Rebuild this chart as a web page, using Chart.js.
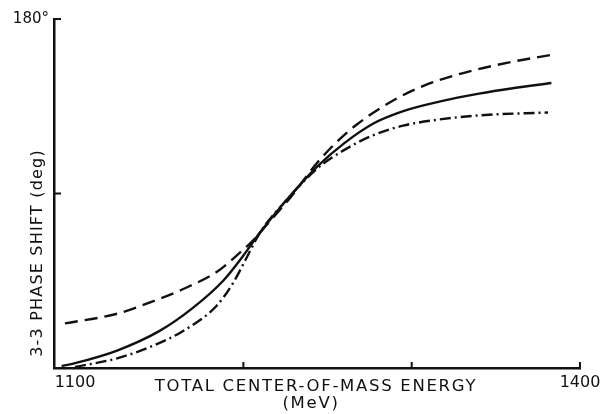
<!DOCTYPE html>
<html lang="en">
<head>
    <script src="https://cdn.jsdelivr.net/npm/chart.js"></script>
    <style>
        body { margin: 0; background: #fff; }
        #wrap { width: 606px; height: 414px; }
    </style>
</head>
<body>
<div id="wrap"><canvas id="phaseChart"></canvas></div>
<script>
    // energies (MeV) and phase shifts (deg)
    const solidE   = [1092, 1100, 1125, 1150, 1170, 1188, 1200, 1210, 1225, 1244, 1260, 1277, 1295, 1317, 1340, 1360, 1383];
    const solidDeg = [1, 2.5, 9, 19, 31, 45, 58, 70, 86, 104, 116, 126, 132.5, 137.5, 141.5, 144.3, 147];

    const dashE   = [1094, 1125, 1145, 1165, 1185, 1196, 1206, 1212, 1228, 1244, 1256, 1268, 1289, 1307, 1330, 1360, 1383];
    const dashDeg = [23, 28, 34, 41, 50, 58, 66, 72, 88, 106, 117, 126, 138, 145.5, 152, 158, 161.5];

    const dotE   = [1100, 1125, 1145, 1164, 1184, 1194, 1202, 1210, 1225, 1244, 1262, 1277, 1295, 1315, 1340, 1381];
    const dotDeg = [0.5, 5, 11, 19, 32, 44, 57, 70, 86, 103, 113.5, 120, 125, 128, 130.3, 131.8];

    const xTicks = [1100, 1200, 1300, 1400];
    const xTickLabels = ['1100', '', '', '1400'];
    const yTicks = [0, 90, 180];
    const yTickLabels = ['', '', '180°'];

    const xTitle = ['TOTAL CENTER-OF-MASS ENERGY', '(MeV)'];
    const yTitle = '3-3 PHASE SHIFT (deg)';

    const ink = '#111';
    const toPts = (xs, ys) => xs.map((x, i) => ({ x: x, y: ys[i] }));

    function line(data, dash) {
        return {
            data: data,
            borderColor: ink,
            borderWidth: 2.4,
            borderDash: dash,
            pointRadius: 0,
            fill: false,
            cubicInterpolationMode: 'monotone'
        };
    }

    // inward tick marks + axis titles
    const decorations = {
        id: 'decorations',
        afterDraw(chart) {
            const c = chart.ctx;
            const xs = chart.scales.x, ys = chart.scales.y;
            const area = chart.chartArea;
            c.save();
            c.strokeStyle = ink;
            c.lineWidth = 2;
            xTicks.slice(1).forEach(v => {
                const px = xs.getPixelForValue(v);
                c.beginPath();
                c.moveTo(px, area.bottom);
                c.lineTo(px, area.bottom - 6);
                c.stroke();
            });
            yTicks.slice(1).forEach(v => {
                const py = ys.getPixelForValue(v);
                c.beginPath();
                c.moveTo(area.left, py);
                c.lineTo(area.left + 7, py);
                c.stroke();
            });

            c.fillStyle = ink;
            c.font = '16.5px "DejaVu Sans"';
            c.textAlign = 'center';
            c.textBaseline = 'middle';
            c.letterSpacing = '1.7px';
            c.fillText(xTitle[0], 316, 387);
            c.fillText(xTitle[1], 311, 404);

            c.font = '16px "DejaVu Sans"';
            c.letterSpacing = '1.2px';
            c.translate(38, 253);
            c.rotate(-Math.PI / 2);
            c.fillText(yTitle, 0, 0);
            c.restore();
        }
    };

    new Chart(document.getElementById('phaseChart'), {
        type: 'line',
        data: {
            datasets: [
                line(toPts(solidE, solidDeg), []),
                line(toPts(dashE, dashDeg), [13, 7]),
                line(toPts(dotE, dotDeg), [11, 4, 2, 4])
            ]
        },
        options: {
            responsive: true,
            maintainAspectRatio: false,
            animation: false,
            layout: { padding: { top: 19, right: 26, left: 0, bottom: 0 } },
            plugins: { legend: { display: false }, tooltip: { enabled: false } },
            scales: {
                x: {
                    type: 'linear',
                    min: 1087.5,
                    max: 1400,
                    afterBuildTicks: s => { s.ticks = xTicks.map(v => ({ value: v })); },
                    afterFit: s => { s.height = 46; },
                    grid: { display: false, drawTicks: false },
                    border: { display: true, color: ink, width: 2.5 },
                    ticks: {
                        padding: 5,
                        color: ink,
                        font: { family: 'DejaVu Sans', size: 16 },
                        maxRotation: 0,
                        autoSkip: false,
                        callback: v => xTickLabels[xTicks.indexOf(v)] || ''
                    }
                },
                y: {
                    min: 0,
                    max: 180,
                    afterBuildTicks: s => { s.ticks = yTicks.map(v => ({ value: v })); },
                    afterFit: s => { s.width = 54; },
                    grid: { display: false, drawTicks: false },
                    border: { display: true, color: ink, width: 2.5 },
                    ticks: {
                        padding: 5,
                        color: ink,
                        font: { family: 'DejaVu Sans', size: 15 },
                        autoSkip: false,
                        callback: v => yTickLabels[yTicks.indexOf(v)] || ''
                    }
                }
            }
        },
        plugins: [decorations]
    });
</script>
</body>
</html>
